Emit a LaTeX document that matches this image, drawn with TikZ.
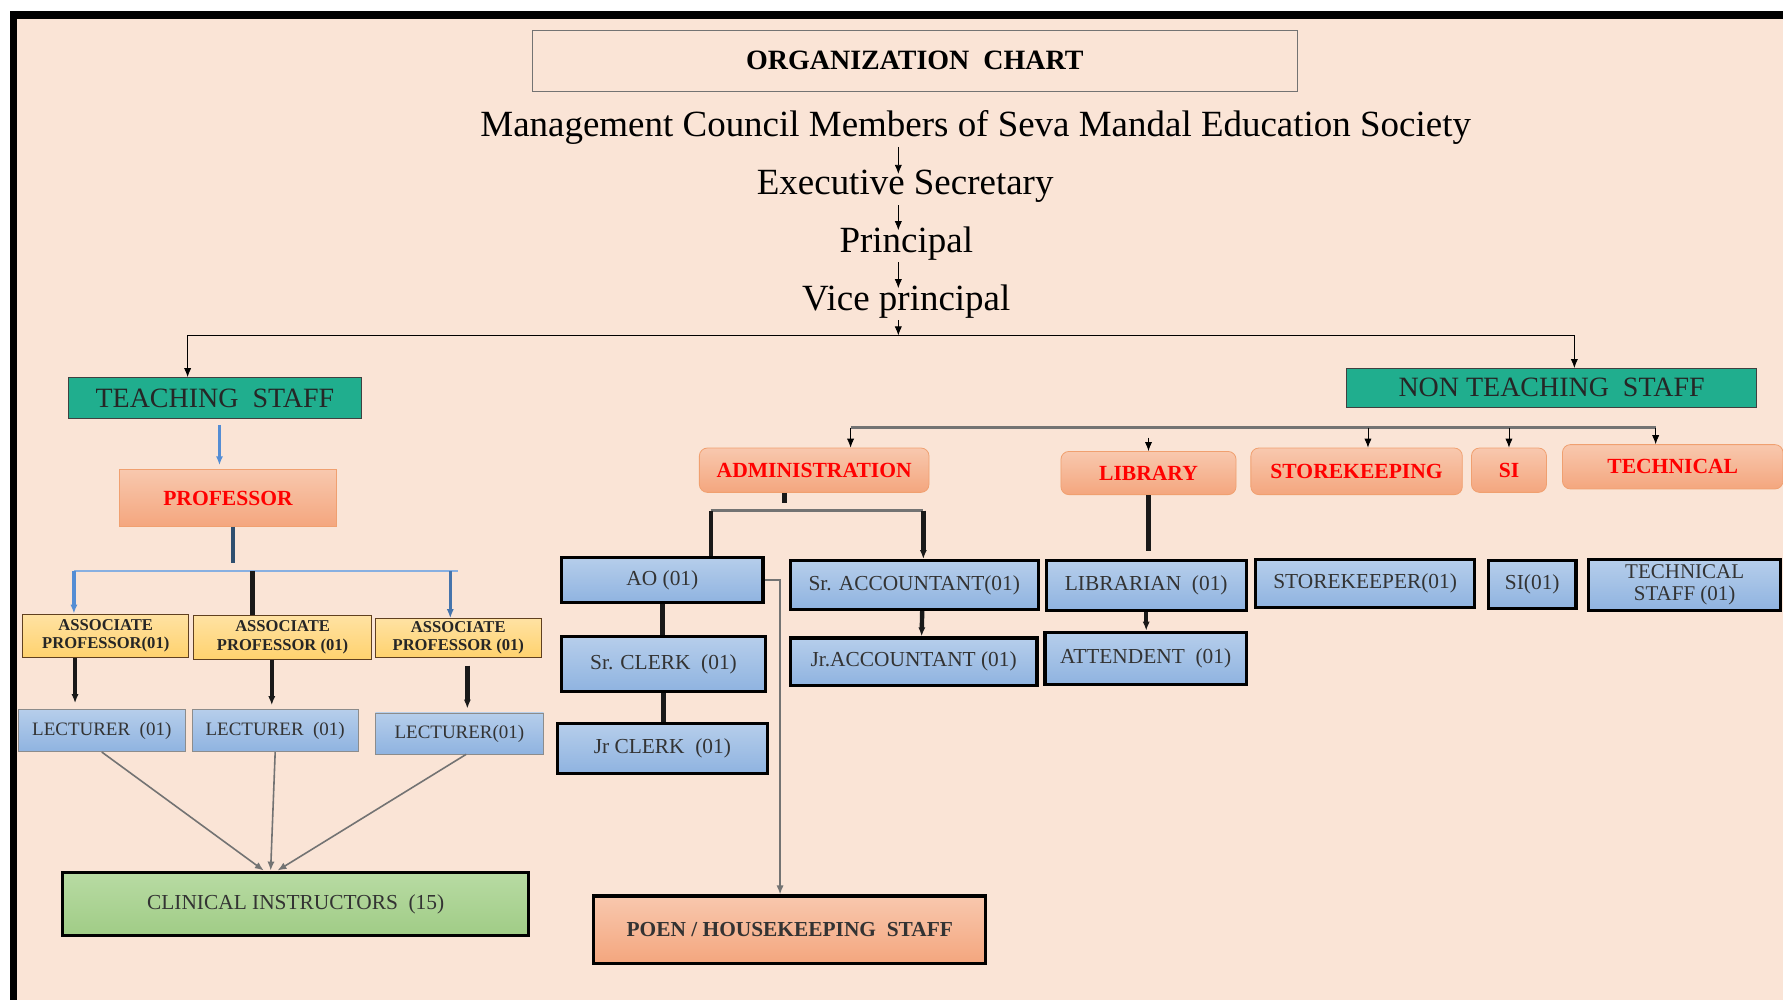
\documentclass[tikz,border=0pt]{standalone}
\usepackage{fontspec}
\setmainfont{Liberation Serif}
\usepackage{tikz}
\usetikzlibrary{arrows.meta,positioning}

\definecolor{peach}{RGB}{250,228,214}
\definecolor{tealbox}{RGB}{32,174,142}
\definecolor{salmontop}{RGB}{248,200,174}
\definecolor{salmonbot}{RGB}{244,166,126}
\definecolor{salmonline}{RGB}{240,160,112}
\definecolor{bluetop}{RGB}{182,206,235}
\definecolor{bluebot}{RGB}{143,179,224}
\definecolor{goldtop}{RGB}{255,226,163}
\definecolor{goldbot}{RGB}{255,210,110}
\definecolor{greentop}{RGB}{184,219,163}
\definecolor{greenbot}{RGB}{160,204,134}
\definecolor{slateline}{RGB}{47,79,111}
\definecolor{blueline}{RGB}{84,141,212}
\definecolor{redtext}{RGB}{255,0,0}

\begin{document}
\begin{tikzpicture}[
    x=0.02cm, y=-0.02cm,
    txt/.style={inner sep=1pt, font=\fontsize{18.5}{20}\selectfont},
    headbox/.style={draw=black!55, inner sep=0pt, font=\bfseries\fontsize{14}{16}\selectfont},
    staffbox/.style={draw=black!75, fill=tealbox, inner sep=0pt, text=black!85, font=\fontsize{14}{16}\selectfont},
    deptbox/.style={draw=salmonline, rounded corners=4pt, top color=salmontop, bottom color=salmonbot, inner sep=0pt, text=redtext, font=\bfseries\fontsize{10.8}{12}\selectfont},
    postbox/.style={draw=black, line width=1.6pt, top color=bluetop, bottom color=bluebot, inner sep=0pt, align=center, text=black!80, font=\fontsize{10.7}{11.5}\selectfont},
    lectbox/.style={draw=black!45, top color=bluetop, bottom color=bluebot, inner sep=0pt, text=black!80, font=\fontsize{9.5}{11}\selectfont},
    assocbox/.style={draw=black!50!brown, top color=goldtop, bottom color=goldbot, inner sep=0pt, align=center, text=black!85, font=\bfseries\fontsize{8.3}{9.3}\selectfont},
    tip/.style={-{Latex[length=4.5pt,width=3.6pt]}},
    heavy/.style={line width=2.2pt, black!90},
    thinline/.style={black!55, line width=0.8pt}
]
% page and frame
\useasboundingbox (0,0) rectangle (1568,879.5);
\fill[white] (0,0) rectangle (1568,879.5);
\fill[peach] (15,17) rectangle (1568,879.5);
\fill[black] (9,10) rectangle (1568,17);
\fill[black] (9,10) rectangle (15,879.5);

% top of the chart
\node[headbox, minimum width=13.46cm, minimum height=1.06cm] (title) at (804.5,53.5) {ORGANIZATION~~CHART};
\node[txt] (council) at (858,112) {Management Council Members of Seva Mandal Education Society};
\node[txt] (exec) at (796,164) {Executive Secretary};
\node[txt] (principal) at (797,214) {Principal};
\node[txt] (vice) at (797,265) {Vice principal};

\coordinate (spine) at (790,0);
\coordinate (bus) at (0,295);
\draw[tip] (council.south -| spine) -- ([yshift=-3pt]exec.north -| spine);
\draw[tip] (exec.south -| spine) -- ([yshift=-3pt]principal.north -| spine);
\draw[tip] (principal.south -| spine) -- ([yshift=-3pt]vice.north -| spine);
\draw[tip] (vice.south -| spine) -- (spine |- bus);

\node[staffbox, minimum width=5.16cm, minimum height=0.72cm] (teach) at (189,350) {TEACHING~~STAFF};
\node[staffbox, minimum width=7.22cm, minimum height=0.68cm] (nonteach) at (1364.5,341) {NON TEACHING~~STAFF};
\draw[thinline] ([xshift=-0.48cm]teach.north |- bus) -- ([xshift=0.4cm]nonteach.north |- bus);
\draw[tip] (spine |- bus) -| ([xshift=-0.48cm]teach.north);
\draw[tip] (spine |- bus) -| ([xshift=0.4cm]nonteach.north);

% teaching side
\node[deptbox, rounded corners=0pt, minimum width=3.82cm, minimum height=1.0cm] (prof) at (200.5,438) {\raisebox{-2pt}{PROFESSOR}};
\draw[blueline, line width=1.6pt, tip, shorten <=3pt, shorten >=2pt] ([xshift=0.08cm]teach.south) -- ([xshift=0.08cm]teach.south |- prof.north);

\node[assocbox, minimum width=2.92cm, minimum height=0.76cm] (assoc1) at (93,559) {ASSOCIATE\\PROFESSOR(01)};
\node[assocbox, minimum width=3.14cm, minimum height=0.78cm] (assoc2) at (248.5,560.5) {ASSOCIATE\\PROFESSOR (01)};
\node[assocbox, minimum width=2.92cm, minimum height=0.68cm] (assoc3) at (403,561) {ASSOCIATE\\PROFESSOR (01)};

\coordinate (abusL) at (65,502);
\coordinate (abusM) at (222,502);
\coordinate (abusD) at (396,502);
\coordinate (abusR) at (403,502);
\draw[slateline, line width=2.2pt, shorten >=4pt] ([xshift=0.09cm]prof.south) -- ([xshift=0.09cm]prof.south |- abusL);
\draw[blueline!70, line width=1pt] (abusL) -- (abusR);
\draw[blueline, line width=1.6pt, tip] (abusL) -- (abusL |- assoc1.north);
\draw[heavy] (abusM) -- (abusM |- assoc2.north);
\draw[blueline!60!slateline, line width=1.6pt, tip] (abusD) -- (abusD |- assoc3.north);

\node[lectbox, minimum width=2.94cm, minimum height=0.74cm] (lect1) at (89.5,642.5) {LECTURER~~(01)};
\node[lectbox, minimum width=2.92cm, minimum height=0.74cm] (lect2) at (242,642.5) {LECTURER~~(01)};
\node[lectbox, minimum width=2.96cm, minimum height=0.72cm] (lect3) at (404,645) {LECTURER(01)};

\coordinate (colA) at (66,0);
\coordinate (colB) at (239,0);
\coordinate (colC) at (411,0);
\draw[heavy, tip, shorten >=3pt] (colA |- assoc1.south) -- (colA |- lect1.north);
\draw[heavy, tip, shorten >=2pt] (colB |- assoc2.south) -- (colB |- lect2.north);
\draw[heavy, tip, shorten <=4pt, shorten >=2pt] (colC |- assoc3.south) -- (colC |- lect3.north);

\node[postbox, top color=greentop, bottom color=greenbot, minimum width=8.2cm, minimum height=1.12cm] (clinical) at (260,795) {CLINICAL~INSTRUCTORS~~(15)};
\draw[thinline, tip] (lect1.south) -- ([xshift=-0.56cm]clinical.north);
\draw[thinline, tip] (lect2.south) -- ([xshift=-0.44cm]clinical.north);
\draw[thinline, tip] ([xshift=0.12cm]lect3.south) -- ([xshift=-0.32cm]clinical.north);

% non teaching side
\node[deptbox, minimum width=4.04cm, minimum height=0.78cm] (admin) at (716,413.5) {ADMINISTRATION};
\node[deptbox, minimum width=3.08cm, minimum height=0.76cm] (library) at (1010,416) {\raisebox{-3pt}{LIBRARY}};
\node[deptbox, minimum width=3.72cm, minimum height=0.82cm] (storekeeping) at (1193,414.5) {STOREKEEPING};
\node[deptbox, minimum width=1.32cm, minimum height=0.78cm] (si) at (1327,413.5) {SI};
\node[deptbox, minimum width=3.88cm, minimum height=0.78cm] (technical) at (1471,410.5) {TECHNICAL};

\coordinate (nbusL) at (748,376);
\coordinate (nbusK) at (1203,376);
\coordinate (nbusT) at (1456,376);
\draw[thinline, line width=1.1pt] (nbusL) -- (nbusT);
\draw[tip] (nbusL) -- (nbusL |- admin.north);
\draw[tip, shorten <=5pt] (library.north |- nbusL) -- (library.north);
\draw[tip] (nbusK) -- (nbusK |- storekeeping.north);
\draw[tip] (si.north |- nbusL) -- (si.north);
\draw[tip] (nbusT) -- (nbusT |- technical.north);

% administration
\node[postbox, minimum width=3.54cm, minimum height=0.8cm] (ao) at (582.5,510) {AO (01)};
\node[postbox, minimum width=3.58cm, minimum height=0.96cm] (srclerk) at (583.5,584) {Sr. CLERK~~(01)};
\node[postbox, minimum width=3.7cm, minimum height=0.88cm] (jrclerk) at (582.5,658) {Jr CLERK~~(01)};
\node[postbox, minimum width=4.36cm, minimum height=0.86cm] (sracct) at (804,514.5) {Sr. ACCOUNTANT(01)};
\node[postbox, minimum width=4.34cm, minimum height=0.84cm] (jracct) at (803.5,582) {Jr.ACCOUNTANT (01)};

\coordinate (adL) at (625,449);
\coordinate (adM) at (690,449);
\coordinate (adR) at (812,449);
\draw[heavy, shorten >=4pt] (adM |- admin.south) -- (adM);
\draw[thinline, line width=1.1pt] (adL) -- (adR);
\draw[heavy] (adL) -- (adL |- ao.north);
\draw[heavy, tip] (adR) -- (adR |- sracct.north);
\draw[heavy] (ao.south) -- (ao.south |- srclerk.north);
\draw[heavy] (srclerk.south) -- (srclerk.south |- jrclerk.north);
\draw[heavy, tip] ([xshift=0.14cm]sracct.south) -- ([xshift=0.14cm]jracct.north);

\node[postbox, top color=salmontop, bottom color=salmonbot, minimum width=6.9cm, minimum height=1.18cm, font=\bfseries\fontsize{10.7}{12}\selectfont] (poen) at (694.5,817.5) {POEN / HOUSEKEEPING~~STAFF};
\draw[thinline, tip] (ao.east) -| ([xshift=-0.17cm]poen.north);

% library, stores, si, technical
\node[postbox, minimum width=3.52cm, minimum height=0.88cm] (librarian) at (1008,515) {LIBRARIAN~~(01)};
\node[postbox, minimum width=3.54cm, minimum height=0.92cm] (attendent) at (1007.5,579) {ATTENDENT~~(01)};
\node[postbox, minimum width=3.86cm, minimum height=0.84cm] (storekeeper) at (1200.5,513) {STOREKEEPER(01)};
\node[postbox, minimum width=1.54cm, minimum height=0.84cm] (si01) at (1347.5,514) {SI(01)};
\node[postbox, minimum width=3.38cm, minimum height=0.9cm, font=\fontsize{10.5}{11}\selectfont] (techstaff) at (1481.5,514.5) {TECHNICAL\\STAFF (01)};

\draw[heavy, shorten >=4pt] (library.south) -- (library.south |- librarian.north);
\draw[heavy, tip] (librarian.south) -- (librarian.south |- attendent.north);
\end{tikzpicture}
\end{document}
